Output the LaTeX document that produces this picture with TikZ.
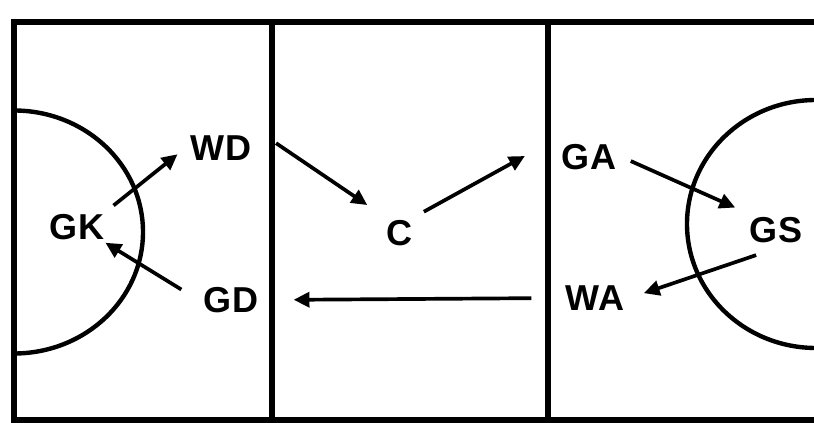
\documentclass[tikz,border=0pt]{standalone}
\usepackage{fontspec}
\setmainfont{Liberation Sans}
\usetikzlibrary{arrows.meta}

\begin{document}
\begin{tikzpicture}[player/.style={font=\fontsize{20.5}{24}\selectfont\bfseries,inner sep=3pt},
    passline/.style={line width=2.1pt,-{Triangle[length=9pt,width=8.5pt]}},
    court/.style={line width=3pt}]
  \path[use as bounding box] (0,0) rectangle (16.28,8.46);
  % court and thirds
  \draw[court] (16.28,8.02) -- (0.28,8.02) -- (0.28,0.06) -- (16.28,0.06);
  \draw[court] (5.44,8.02) -- (5.44,0.06);
  \draw[court] (10.96,8.02) -- (10.96,0.06);
  % goal circles
  \draw[line width=2.5pt] (0.28,6.25) arc[start angle=90,end angle=-90,x radius=2.58,y radius=2.43];
  \draw[line width=2.5pt] (16.32,6.46) arc[start angle=90,end angle=270,x radius=2.58,y radius=2.48];
  % players
  \node[player] (gk) at (1.54,3.92) {GK};
  \node[player] (wd) at (4.42,5.50) {WD};
  \node[player] (gd) at (4.62,2.46) {GD};
  \node[player] (c)  at (8.00,3.80) {C};
  \node[player] (ga) at (11.78,5.32) {GA};
  \node[player] (gs) at (15.52,3.86) {GS};
  \node[player] (wa) at (11.90,2.50) {WA};
  % passes
  \draw[passline,shorten <=0.1cm,shorten >=0.2cm] (gk.north east) -- (wd.west);
  \draw[passline,shorten <=0.47cm,shorten >=0.34cm] (wd.north east) -- (c.north west);
  \draw[passline,shorten <=0.12cm,shorten >=0.72cm] (c.north east) -- (ga.north west);
  \draw[passline,shorten <=0.2cm,shorten >=0.2cm] (ga.east) -- (gs.north west);
  \draw[passline,shorten <=0.42cm,shorten >=0.3cm] (gs.south) -- (wa.east);
  \draw[passline,shorten <=0.58cm,shorten >=0.6cm] (wa.west) -- (gd.east);
  \draw[passline,shorten <=0.4cm,shorten >=-0.1cm] (gd.west) -- (gk.south east);
\end{tikzpicture}
\end{document}
